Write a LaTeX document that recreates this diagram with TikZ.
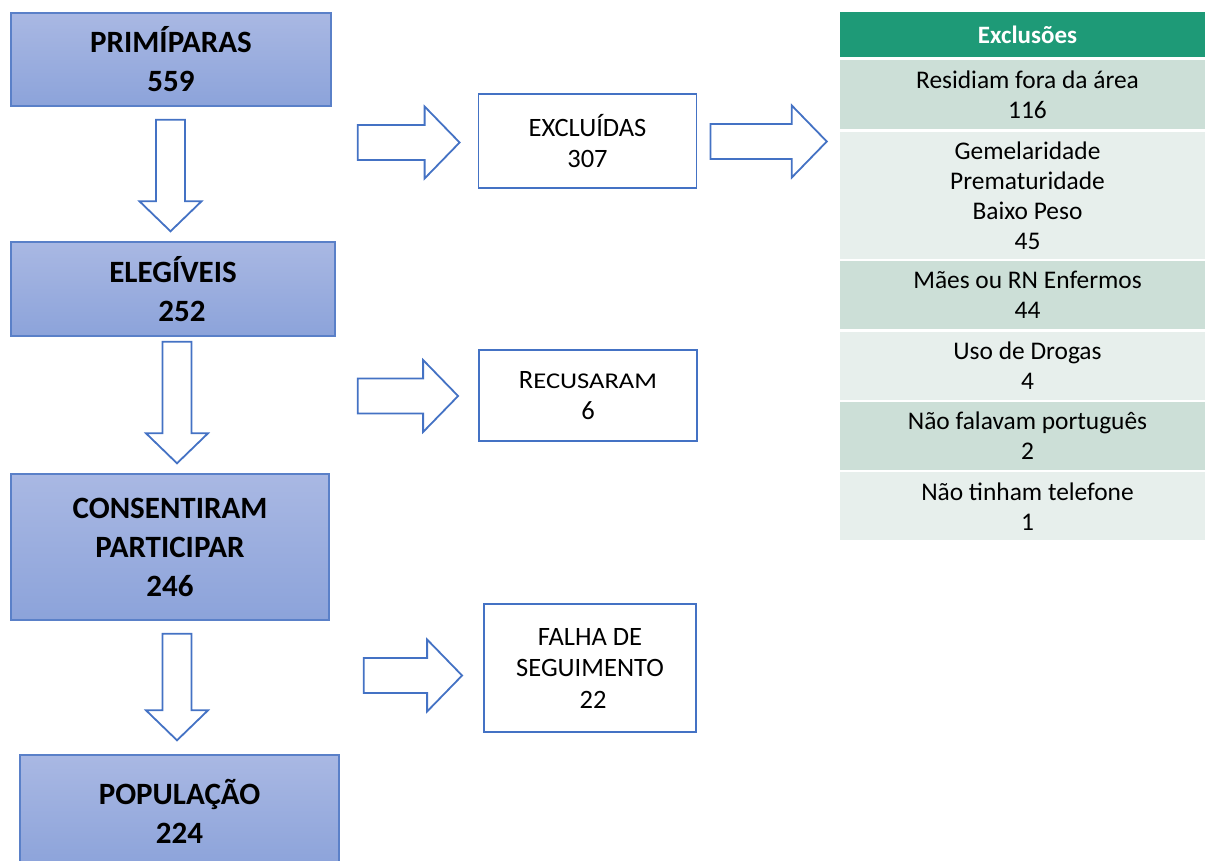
\documentclass[tikz,border=0pt]{standalone}
\usepackage{fontspec}
\usepackage{graphicx}
\setmainfont{Carlito}
\usetikzlibrary{positioning,calc}

\definecolor{boxtop}{HTML}{A9B8E3}
\definecolor{boxbot}{HTML}{8CA3DA}
\definecolor{boxline}{HTML}{5A80C8}
\definecolor{arrline}{HTML}{4472C4}
\definecolor{headgreen}{HTML}{1E9A77}
\definecolor{rowdark}{HTML}{CCDFD7}
\definecolor{rowlight}{HTML}{E7EFEC}

\tikzset{
  stagebox/.style={draw=boxline, line width=1.4pt, top color=boxtop, bottom color=boxbot,
    align=center, inner sep=0pt, font=\bfseries\fontsize{31}{39}\selectfont},
  outbox/.style={draw=arrline, line width=1.8pt, fill=white, align=center, inner sep=0pt,
    minimum width=218pt, font=\fontsize{26.5}{31.5}\selectfont},
  blockarrow/.style={draw=arrline, line width=1.8pt, fill=white, line join=miter},
  headcell/.style={fill=headgreen, text=white, minimum width=375pt, minimum height=45pt,
    inner sep=0pt, font=\bfseries\fontsize{25}{30}\selectfont},
  rowcell/.style={minimum width=375pt, inner sep=0pt, align=center,
    font=\fontsize{25.4}{30}\selectfont}
}

% block arrows between named points
\newcommand{\downblock}[2]{%
  \draw[blockarrow] let \p1=(#1), \p2=(#2) in
    (\x1-14.5pt,\y1) -- (\x1+14.5pt,\y1) -- (\x1+14.5pt,\y2+30pt) -- (\x1+31pt,\y2+30pt)
    -- (\x1,\y2) -- (\x1-31pt,\y2+30pt) -- (\x1-14.5pt,\y2+30pt) -- cycle;}
\newcommand{\rightblock}[2]{%
  \draw[blockarrow] let \p1=(#1), \p2=(#2) in
    (\x1,\y1+17.5pt) -- (\x2-35pt,\y1+17.5pt) -- (\x2-35pt,\y1+36pt) -- (\x2,\y1)
    -- (\x2-35pt,\y1-36pt) -- (\x2-35pt,\y1-17.5pt) -- (\x1,\y1-17.5pt) -- cycle;}

\begin{document}
\begin{tikzpicture}[x=1pt,y=-1pt]
\useasboundingbox (0,0) rectangle (1205,860);

% left column
\node[stagebox, minimum width=320pt, minimum height=93pt] (prim) at (171,59.5) {PRIMÍPARAS\\559};
\node[stagebox, minimum width=324pt, minimum height=94pt] (eleg) at (173,289) {ELEGÍVEIS\\\hspace*{18pt}252};
\node[stagebox, minimum width=318pt, minimum height=146pt] (cons) at (170,547) {CONSENTIRAM\\PARTICIPAR\\246};
\node[stagebox, minimum width=319pt, minimum height=112pt] (pop) at (179.5,811) {POPULAÇÃO\\224};

% boxes on the right
\node[outbox, minimum height=94pt] (excl) at (587.5,141) {EXCLUÍDAS\\307};
\node[outbox, minimum height=91pt] (recus) at (588,395.5)
  {R{\fontsize{22.5}{31.5}\selectfont\scalebox{1.18}[1]{ECUSARAM}}\\6};
\node[outbox, minimum width=212pt, minimum height=128pt] (falha) at (590,668)
  {FALHA DE\\SEGUIMENTO\\\hspace*{6pt}22};

% table
\node[headcell] (head) at (1027.5,34.5) {Exclusões};
\node[rowcell, fill=rowdark, minimum height=69pt, below=3pt of head] (r1) {Residiam fora da área\\116};
\node[rowcell, fill=rowlight, minimum height=127pt, below=2pt of r1] (r2) {Gemelaridade\\Prematuridade\\Baixo Peso\\45};
\node[rowcell, fill=rowdark, minimum height=68pt, below=2pt of r2] (r3) {Mães ou RN Enfermos\\44};
\node[rowcell, fill=rowlight, minimum height=68pt, below=2pt of r3] (r4) {Uso de Drogas\\4};
\node[rowcell, fill=rowdark, minimum height=68pt, below=2pt of r4] (r5) {Não falavam português\\2};
\node[rowcell, fill=rowlight, minimum height=68pt, below=2pt of r5] (r6) {Não tinham telefone\\1};

% arrow ends
\coordinate (d1s) at ($(prim.south)+(-0.5,13)$);
\coordinate (d1e) at ($(eleg.north)+(-2.5,-10)$);
\coordinate (d2s) at ($(eleg.south)+(4,5)$);
\coordinate (d2e) at ($(cons.north)+(7,-10)$);
\coordinate (d3s) at ($(cons.south)+(7,13)$);
\coordinate (d3e) at ($(pop.north)+(-2.5,-14)$);
\coordinate (a1s) at ($(prim.east |- excl.west)+(26,1.5)$);
\coordinate (a1e) at ($(excl.west)+(-18,1.5)$);
\coordinate (a2s) at ($(excl.east)+(13,0.5)$);
\coordinate (a2e) at ($(head.west |- excl.east)+(-13,0.5)$);
\coordinate (b1s) at ($(prim.east |- recus.west)+(26,0.5)$);
\coordinate (b1e) at ($(recus.west)+(-20,0.5)$);
\coordinate (c1s) at ($(prim.east |- falha.west)+(32,7.5)$);
\coordinate (c1e) at ($(falha.west)+(-21,7.5)$);

\downblock{d1s}{d1e}
\downblock{d2s}{d2e}
\downblock{d3s}{d3e}
\rightblock{a1s}{a1e}
\rightblock{a2s}{a2e}
\rightblock{b1s}{b1e}
\rightblock{c1s}{c1e}
\end{tikzpicture}
\end{document}
